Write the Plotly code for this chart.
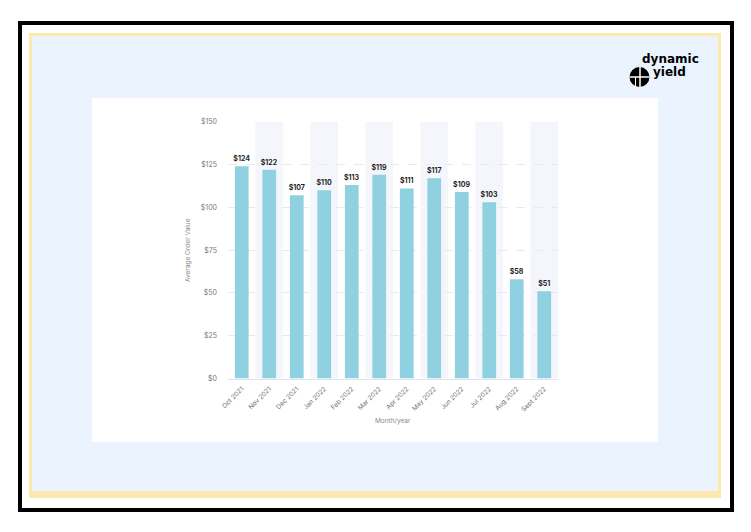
import plotly.graph_objects as go

months = ["Oct 2021", "Nov 2021", "Dec 2021", "Jan 2022", "Feb 2022", "Mar 2022",
          "Apr 2022", "May 2022", "Jun 2022", "Jul 2022", "Aug 2022", "Sept 2022"]
aov = [124, 122, 107, 110, 113, 119, 111, 117, 109, 103, 58, 51]
y_ticks = [0, 25, 50, 75, 100, 125, 150]
y_tick_labels = ["$0", "$25", "$50", "$75", "$100", "$125", "$150"]

W, H = 751, 532


def px(x):
    return x / W


def py(y):
    return 1 - y / H


fig = go.Figure()
fig.add_trace(go.Bar(
    x=months, y=aov,
    marker=dict(color="#90D1E1", line=dict(width=0)),
    width=0.5,
    text=[f"${v}" for v in aov],
    textposition="outside",
    constraintext="none",
    cliponaxis=False,
    textfont=dict(family="Inter, Roboto, sans-serif", size=7, color="#1f1f1f", weight="bold"),
    hoverinfo="skip",
))

shapes = []
shapes.append(dict(type="rect", xref="paper", yref="paper",
                   x0=px(20), x1=px(732), y0=py(510), y1=py(23),
                   line=dict(color="black", width=4), fillcolor="rgba(0,0,0,0)", layer="below"))
shapes.append(dict(type="rect", xref="paper", yref="paper",
                   x0=px(29), x1=px(721), y0=py(498), y1=py(33),
                   line=dict(width=0), fillcolor="#FDE9AE", layer="below"))
shapes.append(dict(type="rect", xref="paper", yref="paper",
                   x0=px(32), x1=px(718), y0=py(491), y1=py(36),
                   line=dict(width=0), fillcolor="#EBF3FE", layer="below"))
shapes.append(dict(type="rect", xref="paper", yref="paper",
                   x0=px(92), x1=px(658), y0=py(442), y1=py(98),
                   line=dict(width=0), fillcolor="white", layer="below"))
for i in range(1, len(months), 2):
    shapes.append(dict(type="rect", xref="x", yref="y",
                       x0=i - 0.5, x1=i + 0.5, y0=0, y1=150,
                       line=dict(width=0), fillcolor="#F4F6FC", layer="below"))
cx, cy, r = 639.5, 77, 10
shapes.append(dict(type="circle", xref="paper", yref="paper",
                   x0=px(cx - r), x1=px(cx + r), y0=py(cy + r), y1=py(cy - r),
                   line=dict(width=0), fillcolor="black", layer="above"))
shapes.append(dict(type="line", xref="paper", yref="paper",
                   x0=px(cx + 0.5), x1=px(cx + 0.5), y0=py(cy + r), y1=py(cy - r),
                   line=dict(color="white", width=1.5), layer="above"))
shapes.append(dict(type="line", xref="paper", yref="paper",
                   x0=px(cx - r), x1=px(cx + r), y0=py(cy), y1=py(cy),
                   line=dict(color="white", width=1.5), layer="above"))
shapes.append(dict(type="line", xref="paper", yref="paper",
                   x0=px(cx - 4), x1=px(cx - 4), y0=py(cy + r), y1=py(cy),
                   line=dict(color="white", width=1), layer="above"))

annotations = [
    dict(text="dynamic", xref="paper", yref="paper", x=px(700), y=py(59),
         xanchor="right", yanchor="middle", showarrow=False, borderpad=0,
         font=dict(family="DejaVu Sans", size=12, color="black", weight="bold")),
    dict(text="yield", xref="paper", yref="paper", x=px(652), y=py(71.5),
         xanchor="left", yanchor="middle", showarrow=False, borderpad=0,
         font=dict(family="DejaVu Sans", size=12, color="black", weight="bold")),
    dict(text="Average Order Value", xref="paper", yref="paper", x=px(188), y=py(250),
         xanchor="center", yanchor="middle", textangle=-90, showarrow=False,
         font=dict(family="Inter, Roboto, sans-serif", size=6.5, color="#8a8a8a")),
    dict(text="Month/year", xref="paper", yref="paper", x=px(393), y=py(421),
         xanchor="center", yanchor="middle", showarrow=False,
         font=dict(family="Inter, Roboto, sans-serif", size=6.5, color="#8a8a8a")),
]

fig.update_layout(
    width=W, height=H, autosize=False,
    margin=dict(l=0, r=0, t=0, b=0, pad=0, autoexpand=False),
    paper_bgcolor="white", plot_bgcolor="rgba(0,0,0,0)",
    showlegend=False,
    shapes=shapes, annotations=annotations,
    xaxis=dict(domain=[px(228), px(558)], type="category", tickangle=-45, automargin=False,
               showgrid=False, zeroline=False, showline=True, linecolor="#DFE4EC", linewidth=1,
               ticks="", tickfont=dict(family="Inter, Roboto, sans-serif", size=6.5, color="#6f6f6f"),
               ticklabelstandoff=3, fixedrange=True),
    yaxis=dict(domain=[py(378.5), py(121.7)], range=[0, 150], automargin=False,
               tickmode="array", tickvals=y_ticks, ticktext=y_tick_labels,
               showgrid=True, gridcolor="#E6E9F0", griddash="dash", gridwidth=1,
               zeroline=False, showline=False, ticks="",
               tickfont=dict(family="Inter, Roboto, sans-serif", size=7, color="#7a7a7a"),
               ticklabelstandoff=10, fixedrange=True),
)

fig.write_html(
    "out.html",
    config={"displayModeBar": False},
    post_script="document.body.style.margin='0';document.body.style.overflow='hidden';",
)
